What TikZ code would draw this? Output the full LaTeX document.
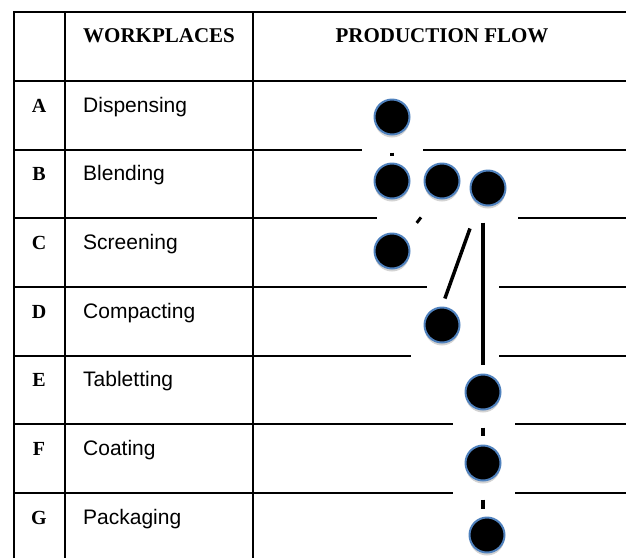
\documentclass[tikz,border=0pt]{standalone}
\usepackage{fontspec}
\setmainfont{Liberation Serif}
\newfontfamily\namefont{Liberation Sans}
\usetikzlibrary{shadows}
\definecolor{stnblue}{HTML}{4F81BD}
\begin{document}
\begin{tikzpicture}[x=1pt,y=-1pt,
  station/.style={draw=stnblue, line width=2pt, fill=black, circle, minimum size=35pt, inner sep=0pt,
    drop shadow={opacity=0.35, shadow xshift=0pt, shadow yshift=-3pt}},
  grid/.style={line width=1.3pt},
  flow/.style={line width=3.5pt},
  head/.style={font=\bfseries\fontsize{21}{25}\selectfont, anchor=base, inner sep=0pt},
  letter/.style={font=\bfseries\fontsize{20}{24}\selectfont, anchor=base},
  place/.style={font=\namefont\fontsize{21}{25}\selectfont, anchor=base west, inner sep=0pt}]
\useasboundingbox (0,0) rectangle (626,558);

% table frame
\path[draw,grid] (14,558) -- (14,12) -- (626,12);
\path[draw,grid] (65,12) -- (65,558);
\path[draw,grid] (253,12) -- (253,558);
\path[draw,grid] (14,81) -- (626,81);
\path[draw,grid] (14,150) -- (362,150);  \path[draw,grid] (423,150) -- (626,150);
\path[draw,grid] (14,218) -- (377,218);  \path[draw,grid] (518,218) -- (626,218);
\path[draw,grid] (14,287) -- (427,287);  \path[draw,grid] (499,287) -- (626,287);
\path[draw,grid] (14,356) -- (411,356);  \path[draw,grid] (499,356) -- (626,356);
\path[draw,grid] (14,424) -- (453,424);  \path[draw,grid] (515,424) -- (626,424);
\path[draw,grid] (14,493) -- (453,493);  \path[draw,grid] (515,493) -- (626,493);

% headings
\node[head, anchor=base west] (hwork) at (83,42) {WORKPLACES};
\node[head] (hflow) at (442,42) {PRODUCTION FLOW};

% rows
\node[letter] (la) at (39,112) {A};
\node[letter] (lb) at (39,180) {B};
\node[letter] (lc) at (39,249) {C};
\node[letter] (ld) at (39,318) {D};
\node[letter] (le) at (39,386) {E};
\node[letter] (lf) at (39,455) {F};
\node[letter] (lg) at (39,524) {G};
\node[place] (pa) at (83,112) {Dispensing};
\node[place] (pb) at (83,180) {Blending};
\node[place] (pc) at (83,249) {Screening};
\node[place] (pd) at (83,318) {Compacting};
\node[place] (pe) at (83,386) {Tabletting};
\node[place] (pf) at (83,455) {Coating};
\node[place] (pg) at (83,524) {Packaging};

% stations
\node[station] (A) at (392,117) {};
\node[station] (B1) at (392,181) {};
\node[station] (B2) at (442,181) {};
\node[station] (B3) at (488,188) {};
\node[station] (C) at (392,251) {};
\node[station] (D) at (442,325) {};
\node[station] (E) at (483,392) {};
\node[station] (F) at (483,463) {};
\node[station] (G) at (487,535) {};

% flow
\path[draw,flow,shorten <=17pt,shorten >=7pt] (A) -- (B1);
\path[draw,flow,line width=3pt,shorten <=24pt,shorten >=19pt] (B2.250) -- (C.45);
\path[draw,flow,shorten <=26pt,shorten >=8.5pt] (B3.240) -- (D.north);
\path[draw,flow,line width=4pt,shorten <=16pt,shorten >=9pt] (E.north |- B3.south) -- (E.north);
\path[draw,flow,shorten <=17pt,shorten >=9pt] (E) -- (F);
\path[draw,flow,shorten <=18pt,shorten >=8pt] (F.south) -- (F.south |- G.north);
\end{tikzpicture}
\end{document}
